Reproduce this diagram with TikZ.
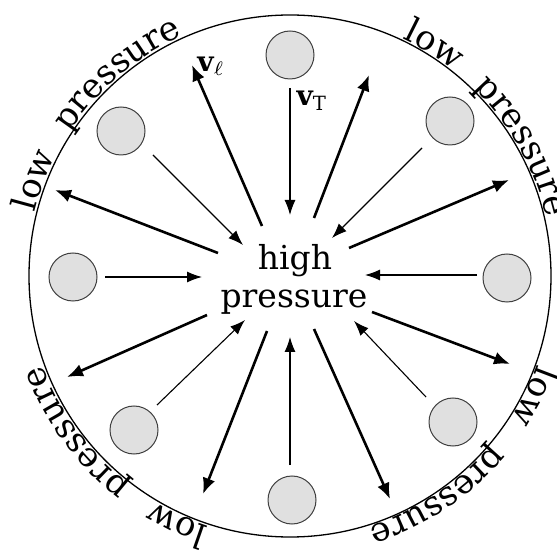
\documentclass[tikz,border=0pt]{standalone}
\usepackage{fontspec}
\setmainfont{DejaVu Serif}
\usetikzlibrary{arrows.meta,decorations.text}
\begin{document}
\begin{tikzpicture}[x=1pt,y=1pt,
  drop/.style={circle,draw=black!75,line width=1pt,fill=black!12,minimum size=48pt,inner sep=0pt},
  inflow/.style={line width=1.1pt,-{Latex[length=15pt,width=11pt]}},
  outflow/.style={line width=2.6pt,-{Latex[length=16pt,width=13pt]}},
  bigtxt/.style={font=\fontsize{33}{38}\selectfont,inner sep=0pt},
  veltxt/.style={scale=2.8,transform shape,inner sep=0pt},
  arclabel/.style={decorate,decoration={text along path,text={|\fontsize{34}{40}\selectfont|#1}}}
]
\useasboundingbox (0,0) rectangle (557,552);
\coordinate (C) at (290,276);
\draw[line width=1.3pt] (C) circle[radius=261];

% droplets
\node[drop] (d1) at (290,497) {};
\node[drop] (d2) at (450,431) {};
\node[drop] (d3) at (507,274) {};
\node[drop] (d4) at (453,130) {};
\node[drop] (d5) at (292,52) {};
\node[drop] (d6) at (134,122) {};
\node[drop] (d7) at (73,275) {};
\node[drop] (d8) at (121,421) {};

% centre text
\node[bigtxt,anchor=base] (hi) at (295,282) {high};
\node[bigtxt,anchor=base] (pr) at (294,244) {pressure};

% inflow arrows (thin)
\coordinate (i1s) at (290,464); \coordinate (i1e) at (290,337);
\coordinate (i2s) at (422,404); \coordinate (i2e) at (332,314);
\coordinate (i3s) at (477,277); \coordinate (i3e) at (365,277);
\coordinate (i4s) at (426,155); \coordinate (i4e) at (354,231);
\coordinate (i5s) at (290,87);  \coordinate (i5e) at (290,215);
\coordinate (i6s) at (157,147); \coordinate (i6e) at (245,232);
\coordinate (i7s) at (105,275); \coordinate (i7e) at (202,275);
\coordinate (i8s) at (153,397); \coordinate (i8e) at (243,307);
\foreach \k in {1,...,8} \draw[inflow] (i\k s) -- (i\k e);

% outflow arrows (thick)
\coordinate (o1s) at (262,326); \coordinate (o1e) at (192,487);
\coordinate (o2s) at (314,334); \coordinate (o2e) at (369,477);
\coordinate (o3s) at (349,304); \coordinate (o3e) at (509,372);
\coordinate (o4s) at (372,240); \coordinate (o4e) at (510,188);
\coordinate (o5s) at (314,223); \coordinate (o5e) at (390,53);
\coordinate (o6s) at (267,221); \coordinate (o6e) at (203,58);
\coordinate (o7s) at (207,237); \coordinate (o7e) at (67,175);
\coordinate (o8s) at (218,299); \coordinate (o8e) at (55,362);
\foreach \k in {1,...,8} \draw[outflow] (o\k s) -- (o\k e);

% velocity labels
\node[veltxt] (vl) at (211,486) {$\mathbf{v}_{\ell}$};
\node[veltxt] (vt) at (312,451) {$\mathbf{v}_{\mathrm{T}}$};

% low pressure labels along the rim
\path[arclabel=low] (C) ++(166:263) arc[start angle=166,delta angle=-40,radius=263];
\path[arclabel=pressure] (C) ++(147:263) arc[start angle=147,delta angle=-60,radius=263];
\path[arclabel=low] (C) ++(64.6:263) arc[start angle=64.6,delta angle=-40,radius=263];
\path[arclabel=pressure] (C) ++(45.8:263) arc[start angle=45.8,delta angle=-60,radius=263];
\path[arclabel=low] (C) ++(252:263) arc[start angle=252,delta angle=-40,radius=263];
\path[arclabel=pressure] (C) ++(232.6:263) arc[start angle=232.6,delta angle=-60,radius=263];
\path[arclabel=low] (C) ++(340.3:263) arc[start angle=340.3,delta angle=-40,radius=263];
\path[arclabel=pressure] (C) ++(320.3:263) arc[start angle=320.3,delta angle=-60,radius=263];
\end{tikzpicture}
\end{document}
